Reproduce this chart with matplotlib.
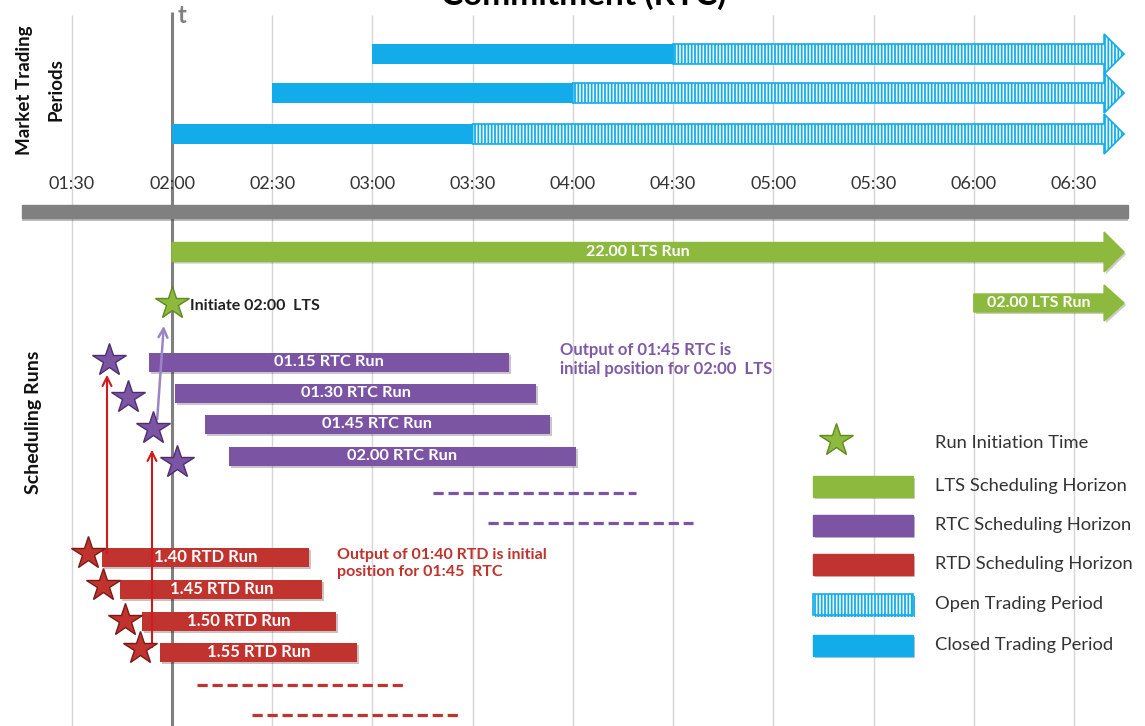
import matplotlib
matplotlib.use('Agg')
import matplotlib.pyplot as plt
from matplotlib.patches import Polygon, Rectangle
import matplotlib.patheffects as pe

plt.rcParams['font.family'] = ['Lato', 'DejaVu Sans']
plt.rcParams['hatch.linewidth'] = 1.3

# ---- data (times in minutes after midnight) ----
tick_minutes = [90, 120, 150, 180, 210, 240, 270, 300, 330, 360, 390]
tick_labels = ['01:30', '02:00', '02:30', '03:00', '03:30', '04:00',
               '04:30', '05:00', '05:30', '06:00', '06:30']
now_minute = 120
horizon_end = 405

# trading periods: closed from start to close, open after that
trade_start = [180, 150, 120]
trade_close = [270, 240, 210]

lts_labels = ['22.00 LTS Run', '02.00 LTS Run']
lts_start = [120, 360]

rtc_labels = ['01.15 RTC Run', '01.30 RTC Run', '01.45 RTC Run', '02.00 RTC Run']
rtc_start = [113, 121, 130, 137]
rtc_end = [221, 229, 233, 241]
rtc_star_x = [101.1, 106.8, 114.3, 121.5]
rtc_more_start = [198, 214.5]
rtc_more_end = [259, 276]

rtd_labels = ['1.40 RTD Run', '1.45 RTD Run', '1.50 RTD Run', '1.55 RTD Run']
rtd_start = [99, 104.5, 111, 116.5]
rtd_end = [161, 165, 169, 175.5]
rtd_star_x = [94.8, 99.3, 105.9, 110.4]
rtd_more_start = [127.5, 144]
rtd_more_end = [189, 205.5]

# colours
BLUE = '#12acea'
GREEN = '#8dba3e'
PURPLE = '#7b55a4'
RED = '#c1332e'
GREY = '#808080'

# ---- layout (vertical positions in pixels from top) ----
W, H = 1145, 726
PX_PER_MIN = (1074 - 172) / 270
X0 = now_minute - 172 / PX_PER_MIN


def px(x):
    return X0 + x / PX_PER_MIN


trade_rows = [54, 93, 134]
lts_rows = [252, 303]
rtc_rows = [362, 393, 424, 456]
rtd_rows = [557, 589, 621, 652]
rtc_more_rows = [493, 523]
rtd_more_rows = [685, 715]
rtc_star_y = [360, 397, 428, 462]
rtd_star_y = [553, 585, 620, 648]

shadow = [pe.SimplePatchShadow(offset=(1.5, -1.5), alpha=0.25), pe.Normal()]

fig = plt.figure(figsize=(W / 100, H / 100), dpi=100)
ax = fig.add_axes([0, 0, 1, 1])
ax.set_xlim(X0, X0 + W / PX_PER_MIN)
ax.set_ylim(H, 0)
ax.axis('off')


def arrow_poly(start, end, y, body_h, head_h, head_len=6, **kw):
    b = end - head_len
    pts = [(start, y - body_h / 2), (b, y - body_h / 2), (b, y - head_h / 2),
           (end, y), (b, y + head_h / 2), (b, y + body_h / 2), (start, y + body_h / 2)]
    p = Polygon(pts, closed=True, **kw)
    ax.add_patch(p)
    return p


# grid lines and "now" line
ax.vlines(tick_minutes, 15, H, color='#d6d6d6', lw=1.0, zorder=0)
ax.vlines(now_minute, 12, H, color=GREY, lw=2.2, zorder=1)
ax.text(px(178), 4, 't', color=GREY, fontsize=17, fontweight='bold', va='top', ha='left')

# title (cut off at the top edge, as in the original)
ax.text(px(584), 5, 'Commitment (RTC)', fontsize=24, fontweight='bold',
        ha='center', va='baseline', color='black')

# market trading periods
for y, s, c in zip(trade_rows, trade_start, trade_close):
    arrow_poly(c, horizon_end, y, 20, 40, facecolor='white', edgecolor=BLUE,
               hatch='|||||', lw=1.2, zorder=2)
    ax.barh(y, c - s, left=s, height=20, color=BLUE, zorder=3)

# time axis labels and bar
for m, lab in zip(tick_minutes, tick_labels):
    ax.text(m, 184, lab, ha='center', va='center', fontsize=13, color='#333333')
gb = Rectangle((px(22), 205), px(1128) - px(22), 13, color=GREY, zorder=2)
gb.set_path_effects([pe.SimplePatchShadow(offset=(0, -2), alpha=0.3), pe.Normal()])
ax.add_patch(gb)

# LTS runs
p = arrow_poly(lts_start[0], horizon_end, lts_rows[0], 19, 40, color=GREEN, zorder=3)
p.set_path_effects(shadow)
p = arrow_poly(lts_start[1], horizon_end, lts_rows[1], 18, 36, color=GREEN, zorder=3)
p.set_path_effects(shadow)
for s, y, lab in zip(lts_start, lts_rows, lts_labels):
    ax.text((s + horizon_end - 6) / 2, y, lab, ha='center', va='center',
            color='white', fontsize=11.5, fontweight='bold', zorder=5)
ax.plot(now_minute, 303, marker='*', ms=25, mfc=GREEN, mec='#5f8a22', mew=1, zorder=6)
ax.text(px(190), 306, 'Initiate 02:00  LTS', fontsize=11.5, fontweight='bold',
        va='center', ha='left', color='#222222')

# RTC runs
for s, e, y, lab in zip(rtc_start, rtc_end, rtc_rows, rtc_labels):
    bars = ax.barh(y, e - s, left=s, height=19, color=PURPLE, zorder=3)
    bars[0].set_path_effects(shadow)
    ax.text((s + e) / 2, y, lab, ha='center', va='center', color='white',
            fontsize=11.8, fontweight='bold', zorder=5)
ax.hlines(rtc_more_rows, rtc_more_start, rtc_more_end, color=PURPLE, lw=2.3,
          linestyles=(0, (3.2, 1.5)), zorder=3)

# RTD runs
for s, e, y, lab in zip(rtd_start, rtd_end, rtd_rows, rtd_labels):
    bars = ax.barh(y, e - s, left=s, height=19, color=RED, zorder=3)
    bars[0].set_path_effects(shadow)
    ax.text((s + e) / 2, y, lab, ha='center', va='center', color='white',
            fontsize=12, fontweight='bold', zorder=5)
ax.hlines(rtd_more_rows, rtd_more_start, rtd_more_end, color=RED, lw=2.3,
          linestyles=(0, (3.2, 1.5)), zorder=3)

# arrows linking runs
ax.annotate('', xy=(px(107), 372), xytext=(px(107), 556),
            arrowprops=dict(arrowstyle='->', color='#d11a1a', lw=1.5,
                            mutation_scale=16), zorder=4)
ax.annotate('', xy=(px(152), 447), xytext=(px(152), 650),
            arrowprops=dict(arrowstyle='->', color='#d11a1a', lw=1.5,
                            mutation_scale=16), zorder=4)
ax.annotate('', xy=(px(164), 323), xytext=(px(157), 422),
            arrowprops=dict(arrowstyle='->', color='#9b86c4', lw=1.8,
                            mutation_scale=16), zorder=4)

# run initiation stars
ax.plot(rtc_star_x, rtc_star_y, ls='none', marker='*', ms=25, mfc=PURPLE,
        mec='#4d2f70', mew=1, zorder=6)
ax.plot(rtd_star_x, rtd_star_y, ls='none', marker='*', ms=25, mfc=RED,
        mec='#7a1a16', mew=1, zorder=6)

# annotations
ax.text(px(560), 342, 'Output of 01:45 RTC is\ninitial position for 02:00  LTS',
        color='#7e5aa6', fontsize=12, fontweight='bold', va='top', ha='left',
        linespacing=1.2)
ax.text(px(337), 548, 'Output of 01:40 RTD is initial\nposition for 01:45  RTC',
        color='#c0322c', fontsize=11.5, fontweight='bold', va='top', ha='left',
        linespacing=1.25)

# side labels
ax.text(px(25), 90, 'Market Trading', rotation=90, ha='center', va='center',
        fontsize=13.5, fontweight='bold', color='#111111')
ax.text(px(56), 90, 'Periods', rotation=90, ha='center', va='center',
        fontsize=13.5, fontweight='bold', color='#111111')
ax.text(px(34), 422, 'Scheduling Runs', rotation=90, ha='center', va='center',
        fontsize=14, fontweight='bold', color='#111111')

# legend
lx0, lx1 = px(813), px(913)
ax.plot(px(836), 440, marker='*', ms=25, mfc=GREEN, mec='#5f8a22', mew=1, zorder=6)
legend_items = [
    (486, dict(color=GREEN), 'LTS Scheduling Horizon'),
    (525, dict(color=PURPLE), 'RTC Scheduling Horizon'),
    (564, dict(color=RED), 'RTD Scheduling Horizon'),
    (604, dict(facecolor='white', edgecolor=BLUE, hatch='|||||', lw=1.2), 'Open Trading Period'),
    (645, dict(color=BLUE), 'Closed Trading Period'),
]
ax.text(px(935), 443, 'Run Initiation Time', fontsize=13.2, va='center', ha='left',
        color='#333333')
for y, style, lab in legend_items:
    r = Rectangle((lx0, y - 10.5), lx1 - lx0, 21, zorder=3, **style)
    r.set_path_effects(shadow)
    ax.add_patch(r)
    ax.text(px(935), y, lab, fontsize=13.2, va='center', ha='left', color='#333333')

fig.savefig('out.png', dpi=100)
